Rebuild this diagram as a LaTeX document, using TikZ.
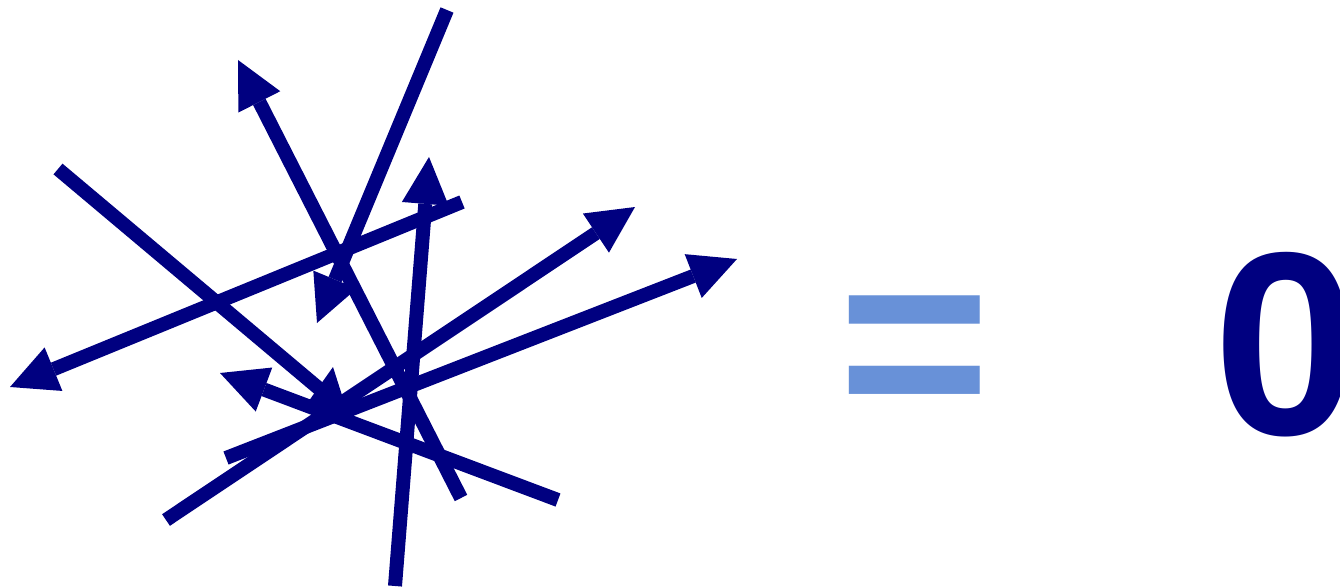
\documentclass[tikz,border=0pt]{standalone}
\usepackage{fontspec}
\setmainfont{Liberation Sans}
\usetikzlibrary{arrows.meta}
\definecolor{navy}{HTML}{000080}
\definecolor{eqblue}{HTML}{6891D8}
\begin{document}
\begin{tikzpicture}[x=1pt,y=-1pt,
  vec/.style={draw=navy,line width=14pt,-{Triangle[length=47pt,width=47pt,line width=0pt]}},
  seg/.style={draw=navy,line width=14pt},
  big/.style={anchor=base west,inner sep=0pt,font=\fontsize{261}{261}\selectfont\bfseries}]
\useasboundingbox (0,0) rectangle (1340,588);
% tails and tips
\coordinate (aT) at (461,498); \coordinate (aH) at (238,60);
\coordinate (bT) at (447,10);  \coordinate (bH) at (317,323);
\coordinate (dT) at (462,202); \coordinate (dH) at (10,387);
\coordinate (eT) at (166,520); \coordinate (eH) at (635,207);
\coordinate (fT) at (226,458); \coordinate (fH) at (737,259);
\coordinate (gT) at (395,586); \coordinate (gH) at (429,157);
\coordinate (hT) at (558,500); \coordinate (hH) at (220,373);
\coordinate (cT) at (58,169);  \coordinate (cE) at (335,402);
\coordinate (sT) at (326,412); \coordinate (sH) at (333,367);
\draw[seg] (cT) -- (cE);
\draw[vec] (aT) -- (aH);
\draw[vec] (bT) -- (bH);
\draw[vec] (dT) -- (dH);
\draw[vec] (eT) -- (eH);
\draw[vec] (fT) -- (fH);
\draw[vec] (gT) -- (gH);
\draw[vec] (hT) -- (hH);
\draw[vec] (sT) -- (sH);
\node[big,text=eqblue] (eq) at (838,431) {=};
\node[big,text=navy] (zero) at (1213,434) {0};
\end{tikzpicture}
\end{document}
